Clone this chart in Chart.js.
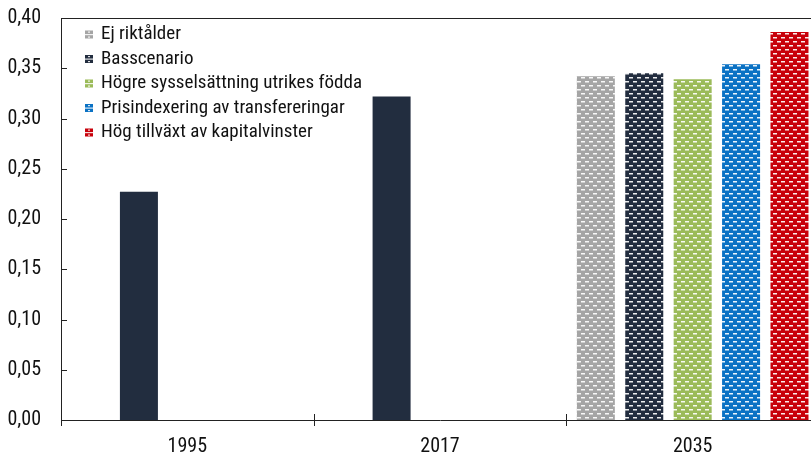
<!DOCTYPE html>
<html>
<head>
<meta charset="utf-8">
<script src="https://cdn.jsdelivr.net/npm/chart.js@4.4.0/dist/chart.umd.min.js"></script>
<style>
  html, body { margin: 0; padding: 0; background: #fff; overflow: hidden; }
  #wrap { width: 820px; height: 453px; }
</style>
</head>
<body>
<div id="wrap"><canvas id="Inkomst"></canvas></div>
<script>
    var years = ['1995', '2017', '2035'];
    var seriesNames = ['Ej riktålder', 'Basscenario', 'Högre sysselsättning utrikes födda', 'Prisindexering av transfereringar', 'Hög tillväxt av kapitalvinster'];
    var ejRiktalder = [null, null, 0.342];
    var basscenario = [0.227, 0.322, 0.345];
    var hogreSyssel = [null, null, 0.339];
    var prisindex = [null, null, 0.354];
    var kapitalvinst = [null, null, 0.386];
    var yTicks = [0, 0.05, 0.10, 0.15, 0.20, 0.25, 0.30, 0.35, 0.40];

    var colors = ['#a5a5a5', '#222d3f', '#9bbb59', '#0b72c4', '#c8000a'];
    var fontFam = '"Roboto Condensed", "Liberation Sans", sans-serif';

    function makePattern(color) {
        var c = document.createElement('canvas');
        c.width = 8; c.height = 8;
        var g = c.getContext('2d');
        g.fillStyle = color;
        g.fillRect(0, 0, 8, 8);
        g.fillStyle = 'rgba(255,255,255,0.92)';
        g.fillRect(1, 1, 4, 1.5);
        g.fillRect(5, 5, 3, 1.5);
        g.fillRect(0, 5, 1, 1.5);
        return g.createPattern(c, 'repeat');
    }
    var patterns = colors.map(makePattern);

    // small legend icon: coloured square with white marks
    function drawIcon(ctx, x, y, color) {
        ctx.fillStyle = color;
        ctx.fillRect(x, y, 8, 8);
        ctx.fillStyle = 'rgba(255,255,255,0.85)';
        ctx.fillRect(x + 3, y + 1, 2, 1.2);
        ctx.fillRect(x, y + 3.5, 8, 1.2);
        ctx.fillRect(x + 3, y + 6, 2, 1.2);
    }

    var frame = {
        id: 'frame',
        afterDraw: function (chart) {
            var ctx = chart.ctx, a = chart.chartArea, y = chart.scales.y;
            ctx.save();
            ctx.strokeStyle = '#222';
            ctx.lineWidth = 1;
            ctx.beginPath();
            ctx.moveTo(a.left, a.top + 0.5); ctx.lineTo(a.right, a.top + 0.5);
            yTicks.forEach(function (v) {
                var py = Math.round(y.getPixelForValue(v)) + 0.5;
                ctx.moveTo(a.left, py); ctx.lineTo(a.left + 6, py);
            });
            var step = (a.right - a.left) / years.length;
            for (var i = 0; i <= years.length; i++) {
                var px = Math.round(a.left + step * i) + 0.5;
                ctx.moveTo(px, a.bottom - 6); ctx.lineTo(px, a.bottom + 6);
            }
            ctx.stroke();
            // legend inside plot
            ctx.font = '19px ' + fontFam;
            ctx.textBaseline = 'middle';
            chart.data.datasets.forEach(function (ds, i) {
                var cy = 34.5 + i * 24.5;
                drawIcon(ctx, 85, cy - 4, colors[i]);
                ctx.fillStyle = '#111';
                ctx.fillText(ds.label, 101, cy);
            });
            ctx.restore();
        }
    };

    var values = [ejRiktalder, basscenario, hogreSyssel, prisindex, kapitalvinst];

    new Chart(document.getElementById('Inkomst'), {
        type: 'bar',
        data: {
            labels: years,
            datasets: seriesNames.map(function (name, i) {
                return {
                    label: name,
                    data: values[i],
                    backgroundColor: i === 1 ? [colors[1], colors[1], patterns[1]] : patterns[i],
                    categoryPercentage: 0.958,
                    barPercentage: 0.785
                };
            })
        },
        options: {
            responsive: true,
            maintainAspectRatio: false,
            animation: false,
            layout: { padding: { top: 18, right: 1, bottom: 0, left: 0 } },
            plugins: {
                legend: { display: false },
                tooltip: { enabled: false }
            },
            scales: {
                x: {
                    afterFit: function (scale) { scale.height = 33; },
                    grid: { display: false },
                    border: { display: true, color: '#222', width: 1 },
                    ticks: { color: '#111', padding: 7, font: { family: fontFam, size: 20 } }
                },
                y: {
                    min: 0,
                    max: 0.40,
                    afterFit: function (scale) { scale.width = 61; scale.paddingTop = 0; scale.paddingBottom = 0; },
                    afterBuildTicks: function (scale) { scale.ticks = yTicks.map(function (v) { return { value: v }; }); },
                    grid: { display: false },
                    border: { display: true, color: '#222', width: 1 },
                    ticks: {
                        color: '#111',
                        padding: 12,
                        font: { family: fontFam, size: 20 },
                        callback: function (v) { return v.toFixed(2).replace('.', ','); }
                    }
                }
            }
        },
        plugins: [frame]
    });
</script>
</body>
</html>
